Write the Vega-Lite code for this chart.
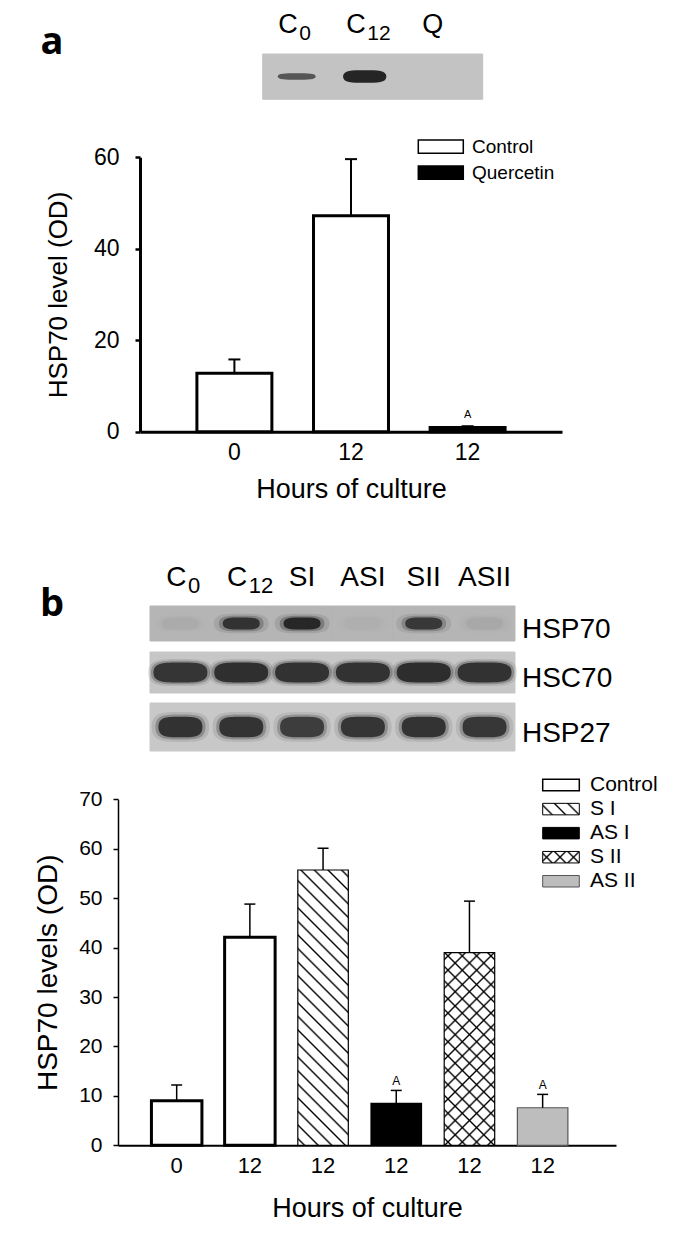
{
  "$schema": "https://vega.github.io/schema/vega-lite/v6.json",
  "width": 700,
  "height": 1236,
  "padding": 0,
  "autosize": {"type": "none"},
  "background": "#ffffff",
  "config": {
    "view": {"stroke": null},
    "font": "Liberation Sans",
    "axis": {"grid": false, "labelColor": "#000", "titleColor": "#000", "domainColor": "#000", "tickColor": "#000", "labelFont": "Liberation Sans", "titleFont": "Liberation Sans", "titleFontWeight": "normal", "labelAngle": 0, "labelOverlap": false, "zindex": 1},
    "text": {"font": "Liberation Sans", "color": "#000"}
  },
  "datasets": {
    "barsA": [
      {"cond": "C0", "group": "Control", "value": 12.8, "upper": 15.8, "sig": ""},
      {"cond": "C12", "group": "Control", "value": 47.2, "upper": 59.6, "sig": ""},
      {"cond": "Q", "group": "Quercetin", "value": 0.9, "upper": 1.2, "sig": "A"}
    ],
    "barsB": [
      {"cond": "C0", "group": "Control", "value": 9.0, "upper": 12.2, "sig": ""},
      {"cond": "C12", "group": "Control", "value": 42.1, "upper": 48.8, "sig": ""},
      {"cond": "SI", "group": "S I", "value": 55.7, "upper": 60.1, "sig": ""},
      {"cond": "ASI", "group": "AS I", "value": 8.5, "upper": 11.1, "sig": "A"},
      {"cond": "SII", "group": "S II", "value": 39.0, "upper": 49.4, "sig": ""},
      {"cond": "ASII", "group": "AS II", "value": 7.6, "upper": 10.3, "sig": "A"}
    ],
    "blotA": [
      {"lane": "C0", "row": "blot", "intensity": 0.65},
      {"lane": "C12", "row": "blot", "intensity": 0.95},
      {"lane": "Q", "row": "blot", "intensity": 0.0}
    ],
    "lanesA": [
      {"lane": "C0", "row": "lab", "main": "C", "sub": "0"},
      {"lane": "C12", "row": "lab", "main": "C", "sub": "12"},
      {"lane": "Q", "row": "lab", "main": "Q", "sub": ""}
    ],
    "blotB": [
      {"protein": "HSP70", "lane": "C0", "intensity": 0.04},
      {"protein": "HSP70", "lane": "C12", "intensity": 0.85},
      {"protein": "HSP70", "lane": "SI", "intensity": 0.95},
      {"protein": "HSP70", "lane": "ASI", "intensity": 0.02},
      {"protein": "HSP70", "lane": "SII", "intensity": 0.8},
      {"protein": "HSP70", "lane": "ASII", "intensity": 0.05},
      {"protein": "HSC70", "lane": "C0", "intensity": 0.85},
      {"protein": "HSC70", "lane": "C12", "intensity": 0.9},
      {"protein": "HSC70", "lane": "SI", "intensity": 0.88},
      {"protein": "HSC70", "lane": "ASI", "intensity": 0.87},
      {"protein": "HSC70", "lane": "SII", "intensity": 0.92},
      {"protein": "HSC70", "lane": "ASII", "intensity": 0.88},
      {"protein": "HSP27", "lane": "C0", "intensity": 0.88},
      {"protein": "HSP27", "lane": "C12", "intensity": 0.86},
      {"protein": "HSP27", "lane": "SI", "intensity": 0.78},
      {"protein": "HSP27", "lane": "ASI", "intensity": 0.85},
      {"protein": "HSP27", "lane": "SII", "intensity": 0.86},
      {"protein": "HSP27", "lane": "ASII", "intensity": 0.83}
    ],
    "lanesB": [
      {"lane": "C0", "row": "lab", "main": "C", "sub": "0"},
      {"lane": "C12", "row": "lab", "main": "C", "sub": "12"},
      {"lane": "SI", "row": "lab", "main": "SI", "sub": ""},
      {"lane": "ASI", "row": "lab", "main": "ASI", "sub": ""},
      {"lane": "SII", "row": "lab", "main": "SII", "sub": ""},
      {"lane": "ASII", "row": "lab", "main": "ASII", "sub": ""}
    ],
    "legendA": [
      {"group": "Control", "box": "box", "txt": "text"},
      {"group": "Quercetin", "box": "box", "txt": "text"}
    ],
    "legendB": [
      {"group": "Control", "box": "box", "txt": "text"},
      {"group": "S I", "box": "box", "txt": "text"},
      {"group": "AS I", "box": "box", "txt": "text"},
      {"group": "S II", "box": "box", "txt": "text"},
      {"group": "AS II", "box": "box", "txt": "text"}
    ]
  },
  "resolve": {
    "scale": {"x": "independent", "y": "independent", "fill": "independent", "opacity": "independent", "size": "independent", "shape": "independent", "color": "independent"},
    "axis": {"x": "independent", "y": "independent"}
  },
  "layer": [
    {
      "data": {"values": [{"tag": "a", "col": "L"}, {"tag": "b", "col": "L"}]},
      "mark": {"type": "text", "font": "Open Sans", "fontWeight": "bold", "fontSize": 38, "align": "center", "baseline": "alphabetic"},
      "encoding": {
        "x": {"field": "col", "type": "nominal", "scale": {"type": "point", "domain": ["L"], "range": [40, 64], "padding": 0.5}, "axis": null},
        "y": {"field": "tag", "type": "nominal", "scale": {"type": "point", "domain": ["a", "b"], "range": [54, 616], "padding": 0}, "axis": null},
        "text": {"field": "tag", "type": "nominal"}
      }
    },
    {
      "data": {"name": "blotA"},
      "mark": {"type": "rect", "fill": "#c3c3c3", "stroke": "#c3c3c3", "strokeWidth": 1},
      "encoding": {
        "x": {"field": "lane", "type": "nominal", "scale": {"type": "band", "domain": ["C0", "C12", "Q"], "range": [262.7, 482.7], "paddingInner": 0, "paddingOuter": 0}, "axis": null},
        "y": {"field": "row", "type": "nominal", "scale": {"type": "band", "domain": ["blot"], "range": [54, 99.3], "paddingInner": 0, "paddingOuter": 0}, "axis": null}
      }
    },
    {
      "encoding": {
        "x": {"field": "lane", "type": "nominal", "scale": {"type": "band", "domain": ["C0", "C12", "Q"], "range": [262.7, 482.7], "paddingInner": 0, "paddingOuter": 0.1176, "align": 0}, "axis": null},
        "y": {"field": "row", "type": "nominal", "scale": {"type": "point", "domain": ["lab", "blot"], "range": [33, 76.5], "padding": 0}, "axis": null}
      },
      "layer": [
        {
          "data": {"name": "blotA"},
          "mark": {"type": "point", "filled": true, "color": "#1c1c1c", "strokeWidth": 0, "fillOpacity": 1},
          "encoding": {
            "shape": {"field": "lane", "type": "nominal", "scale": {"domain": ["C0", "C12", "Q"], "range": ["M-1,0C-1,-0.17,-0.6,-0.17,0,-0.17C0.6,-0.17,1,-0.17,1,0C1,0.17,0.6,0.17,0,0.17C-0.6,0.17,-1,0.17,-1,0Z", "M-1,0C-1,-0.29,-0.6,-0.29,0,-0.29C0.6,-0.29,1,-0.29,1,0C1,0.29,0.6,0.29,0,0.29C-0.6,0.29,-1,0.29,-1,0Z", "M-1,0C-1,-0.17,-0.6,-0.17,0,-0.17C0.6,-0.17,1,-0.17,1,0C1,0.17,0.6,0.17,0,0.17C-0.6,0.17,-1,0.17,-1,0Z"]}, "legend": null},
            "size": {"field": "lane", "type": "ordinal", "scale": {"domain": ["C0", "C12", "Q"], "range": [1444, 2304, 1444]}, "legend": null},
            "opacity": {"field": "intensity", "type": "quantitative", "scale": {"domain": [0, 1], "range": [0, 1]}, "legend": null}
          }
        },
        {
          "data": {"name": "lanesA"},
          "transform": [{"filter": "datum.sub != ''"}],
          "mark": {"type": "text", "fontSize": 27, "align": "right", "baseline": "alphabetic", "dx": 1},
          "encoding": {"text": {"field": "main", "type": "nominal"}}
        },
        {
          "data": {"name": "lanesA"},
          "transform": [{"filter": "datum.sub != ''"}],
          "mark": {"type": "text", "fontSize": 21, "align": "left", "baseline": "alphabetic", "dx": 2.5, "dy": 7},
          "encoding": {"text": {"field": "sub", "type": "nominal"}}
        },
        {
          "data": {"name": "lanesA"},
          "transform": [{"filter": "datum.sub == ''"}],
          "mark": {"type": "text", "fontSize": 27, "align": "center", "baseline": "alphabetic"},
          "encoding": {"text": {"field": "main", "type": "nominal"}}
        }
      ]
    },
    {
      "data": {"name": "barsA"},
      "encoding": {
        "x": {"field": "cond", "type": "nominal", "scale": {"type": "band", "domain": ["C0", "C12", "Q"], "range": [140, 562], "paddingInner": 0.357, "paddingOuter": 0.488, "align": 0.5},
          "axis": {"orient": "bottom", "offset": -804.3, "domainWidth": 3, "ticks": false, "labelFontSize": 23, "labelPadding": 10, "labelExpr": "datum.value == 'C0' ? '0' : '12'", "title": "Hours of culture", "titleFontSize": 27, "titlePadding": 12}},
        "y": {"field": "value", "type": "quantitative", "scale": {"domain": [0, 60], "range": [431.7, 157.3], "nice": false, "zero": true},
          "axis": {"orient": "left", "offset": -140, "values": [0, 20, 40, 60], "tickSize": 5, "tickWidth": 2.5, "domainWidth": 3, "labelFontSize": 23, "labelPadding": 16, "title": "HSP70 level (OD)", "titleFontSize": 26, "titlePadding": 22}}
      },
      "layer": [
        {
          "mark": {"type": "bar", "stroke": "#000", "strokeWidth": 3, "opacity": 1},
          "encoding": {"fill": {"field": "group", "type": "nominal", "scale": {"domain": ["Control", "Quercetin"], "range": ["#ffffff", "#000000"]}, "legend": null}}
        },
        {
          "mark": {"type": "rule", "color": "#000", "strokeWidth": 2},
          "encoding": {"y2": {"field": "upper"}}
        },
        {
          "mark": {"type": "tick", "color": "#000", "thickness": 2, "size": 12, "opacity": 1},
          "encoding": {"y": {"field": "upper", "type": "quantitative", "scale": {"domain": [0, 60], "range": [431.7, 157.3], "nice": false, "zero": true},
            "axis": {"orient": "left", "offset": -140, "values": [0, 20, 40, 60], "tickSize": 5, "tickWidth": 2.5, "domainWidth": 3, "labelFontSize": 23, "labelPadding": 16, "title": "HSP70 level (OD)", "titleFontSize": 26, "titlePadding": 22}}}
        },
        {
          "transform": [{"filter": "datum.sig != ''"}],
          "mark": {"type": "text", "fontSize": 11, "baseline": "alphabetic", "dy": -8},
          "encoding": {
            "y": {"field": "upper", "type": "quantitative", "scale": {"domain": [0, 60], "range": [431.7, 157.3], "nice": false, "zero": true},
              "axis": {"orient": "left", "offset": -140, "values": [0, 20, 40, 60], "tickSize": 5, "tickWidth": 2.5, "domainWidth": 3, "labelFontSize": 23, "labelPadding": 16, "title": "HSP70 level (OD)", "titleFontSize": 26, "titlePadding": 22}},
            "text": {"field": "sig", "type": "nominal"}
          }
        }
      ]
    },
    {
      "data": {"name": "legendA"},
      "encoding": {
        "y": {"field": "group", "type": "nominal", "scale": {"type": "band", "domain": ["Control", "Quercetin"], "range": [140, 179.3], "paddingInner": 0.488, "paddingOuter": 0}, "axis": null}
      },
      "layer": [
        {
          "mark": {"type": "rect", "stroke": "#000", "strokeWidth": 1.5},
          "encoding": {
            "x": {"field": "box", "type": "nominal", "scale": {"type": "band", "domain": ["box", "text"], "range": [418.3, 517], "paddingInner": 0.162, "paddingOuter": 0}, "axis": null},
            "fill": {"field": "group", "type": "nominal", "scale": {"domain": ["Control", "Quercetin"], "range": ["#ffffff", "#000000"]}, "legend": null}
          }
        },
        {
          "mark": {"type": "text", "fontSize": 19, "align": "left", "baseline": "middle"},
          "encoding": {
            "x": {"field": "txt", "type": "nominal", "bandPosition": 0, "scale": {"type": "band", "domain": ["box", "text"], "range": [418.3, 517], "paddingInner": 0.162, "paddingOuter": 0}, "axis": null},
            "text": {"field": "group", "type": "nominal"}
          }
        }
      ]
    },
    {
      "data": {"name": "blotB"},
      "transform": [{"filter": "datum.protein == 'HSP70'"}],
      "encoding": {
        "x": {"field": "lane", "type": "nominal", "scale": {"type": "band", "domain": ["C0", "C12", "SI", "ASI", "SII", "ASII", "lbl"], "range": [150, 575.8], "paddingInner": 0, "paddingOuter": 0}, "axis": null},
        "y": {"field": "protein", "type": "nominal", "scale": {"type": "band", "domain": ["HSP70"], "range": [606, 641], "paddingInner": 0, "paddingOuter": 0}, "axis": null}
      },
      "layer": [
        {"mark": {"type": "rect", "fill": "#b5b5b5", "stroke": "#b5b5b5", "strokeWidth": 1}},
        {
          "mark": {"type": "point", "filled": true, "color": "#1c1c1c", "strokeWidth": 0, "fillOpacity": 0.12, "size": 3000, "shape": "M-1,0C-1,-0.36,-0.6,-0.36,0,-0.36C0.6,-0.36,1,-0.36,1,0C1,0.36,0.6,0.36,0,0.36C-0.6,0.36,-1,0.36,-1,0Z"},
          "encoding": {"opacity": {"field": "intensity", "type": "quantitative", "scale": {"domain": [0, 1], "range": [0, 1]}, "legend": null}}
        },
        {
          "mark": {"type": "point", "filled": true, "color": "#1c1c1c", "strokeWidth": 0, "fillOpacity": 0.3, "size": 2000, "shape": "M-1,0C-1,-0.35,-0.6,-0.35,0,-0.35C0.6,-0.35,1,-0.35,1,0C1,0.35,0.6,0.35,0,0.35C-0.6,0.35,-1,0.35,-1,0Z"},
          "encoding": {"opacity": {"field": "intensity", "type": "quantitative", "scale": {"domain": [0, 1], "range": [0, 1]}, "legend": null}}
        },
        {
          "mark": {"type": "point", "filled": true, "color": "#1c1c1c", "strokeWidth": 0, "fillOpacity": 0.92, "size": 1369, "shape": "M-1,0C-1,-0.33,-0.6,-0.33,0,-0.33C0.6,-0.33,1,-0.33,1,0C1,0.33,0.6,0.33,0,0.33C-0.6,0.33,-1,0.33,-1,0Z"},
          "encoding": {"opacity": {"field": "intensity", "type": "quantitative", "scale": {"domain": [0, 1], "range": [0, 1]}, "legend": null}}
        },
        {
          "data": {"values": [{"lane": "lbl", "protein": "HSP70"}]},
          "mark": {"type": "text", "fontSize": 28, "align": "left", "baseline": "alphabetic", "dx": 7, "dy": 14},
          "encoding": {
            "x": {"field": "lane", "type": "nominal", "bandPosition": 0, "scale": {"type": "band", "domain": ["C0", "C12", "SI", "ASI", "SII", "ASII", "lbl"], "range": [150, 575.8], "paddingInner": 0, "paddingOuter": 0}, "axis": null},
            "text": {"field": "protein", "type": "nominal"}
          }
        }
      ]
    },
    {
      "data": {"name": "blotB"},
      "transform": [{"filter": "datum.protein == 'HSC70'"}],
      "encoding": {
        "x": {"field": "lane", "type": "nominal", "scale": {"type": "band", "domain": ["C0", "C12", "SI", "ASI", "SII", "ASII", "lbl"], "range": [150, 575.8], "paddingInner": 0, "paddingOuter": 0}, "axis": null},
        "y": {"field": "protein", "type": "nominal", "scale": {"type": "band", "domain": ["HSC70"], "range": [652, 693], "paddingInner": 0, "paddingOuter": 0}, "axis": null}
      },
      "layer": [
        {"mark": {"type": "rect", "fill": "#c6c6c6", "stroke": "#c6c6c6", "strokeWidth": 1}},
        {
          "mark": {"type": "point", "filled": true, "color": "#1c1c1c", "strokeWidth": 0, "fillOpacity": 0.12, "size": 4200, "shape": "M-1,0C-1,-0.42,-0.6,-0.42,0,-0.42C0.6,-0.42,1,-0.42,1,0C1,0.42,0.6,0.42,0,0.42C-0.6,0.42,-1,0.42,-1,0Z"},
          "encoding": {"opacity": {"field": "intensity", "type": "quantitative", "scale": {"domain": [0, 1], "range": [0, 1]}, "legend": null}}
        },
        {
          "mark": {"type": "point", "filled": true, "color": "#1c1c1c", "strokeWidth": 0, "fillOpacity": 0.3, "size": 3500, "shape": "M-1,0C-1,-0.4,-0.6,-0.4,0,-0.4C0.6,-0.4,1,-0.4,1,0C1,0.4,0.6,0.4,0,0.4C-0.6,0.4,-1,0.4,-1,0Z"},
          "encoding": {"opacity": {"field": "intensity", "type": "quantitative", "scale": {"domain": [0, 1], "range": [0, 1]}, "legend": null}}
        },
        {
          "mark": {"type": "point", "filled": true, "color": "#1c1c1c", "strokeWidth": 0, "fillOpacity": 0.92, "size": 2916, "shape": "M-1,0C-1,-0.37,-0.6,-0.37,0,-0.37C0.6,-0.37,1,-0.37,1,0C1,0.37,0.6,0.37,0,0.37C-0.6,0.37,-1,0.37,-1,0Z"},
          "encoding": {"opacity": {"field": "intensity", "type": "quantitative", "scale": {"domain": [0, 1], "range": [0, 1]}, "legend": null}}
        },
        {
          "data": {"values": [{"lane": "lbl", "protein": "HSC70"}]},
          "mark": {"type": "text", "fontSize": 28, "align": "left", "baseline": "alphabetic", "dx": 7, "dy": 14},
          "encoding": {
            "x": {"field": "lane", "type": "nominal", "bandPosition": 0, "scale": {"type": "band", "domain": ["C0", "C12", "SI", "ASI", "SII", "ASII", "lbl"], "range": [150, 575.8], "paddingInner": 0, "paddingOuter": 0}, "axis": null},
            "text": {"field": "protein", "type": "nominal"}
          }
        }
      ]
    },
    {
      "data": {"name": "blotB"},
      "transform": [{"filter": "datum.protein == 'HSP27'"}],
      "encoding": {
        "x": {"field": "lane", "type": "nominal", "scale": {"type": "band", "domain": ["C0", "C12", "SI", "ASI", "SII", "ASII", "lbl"], "range": [150, 575.8], "paddingInner": 0, "paddingOuter": 0}, "axis": null},
        "y": {"field": "protein", "type": "nominal", "scale": {"type": "band", "domain": ["HSP27"], "range": [703, 751], "paddingInner": 0, "paddingOuter": 0}, "axis": null}
      },
      "layer": [
        {"mark": {"type": "rect", "fill": "#c8c8c8", "stroke": "#c8c8c8", "strokeWidth": 1}},
        {
          "mark": {"type": "point", "filled": true, "color": "#1c1c1c", "strokeWidth": 0, "fillOpacity": 0.12, "size": 3300, "shape": "M-1,0C-1,-0.52,-0.6,-0.52,0,-0.52C0.6,-0.52,1,-0.52,1,0C1,0.52,0.6,0.52,0,0.52C-0.6,0.52,-1,0.52,-1,0Z"},
          "encoding": {"opacity": {"field": "intensity", "type": "quantitative", "scale": {"domain": [0, 1], "range": [0, 1]}, "legend": null}}
        },
        {
          "mark": {"type": "point", "filled": true, "color": "#1c1c1c", "strokeWidth": 0, "fillOpacity": 0.3, "size": 2500, "shape": "M-1,0C-1,-0.5,-0.6,-0.5,0,-0.5C0.6,-0.5,1,-0.5,1,0C1,0.5,0.6,0.5,0,0.5C-0.6,0.5,-1,0.5,-1,0Z"},
          "encoding": {"opacity": {"field": "intensity", "type": "quantitative", "scale": {"domain": [0, 1], "range": [0, 1]}, "legend": null}}
        },
        {
          "mark": {"type": "point", "filled": true, "color": "#1c1c1c", "strokeWidth": 0, "fillOpacity": 0.92, "size": 1936, "shape": "M-1,0C-1,-0.47,-0.6,-0.47,0,-0.47C0.6,-0.47,1,-0.47,1,0C1,0.47,0.6,0.47,0,0.47C-0.6,0.47,-1,0.47,-1,0Z"},
          "encoding": {"opacity": {"field": "intensity", "type": "quantitative", "scale": {"domain": [0, 1], "range": [0, 1]}, "legend": null}}
        },
        {
          "data": {"values": [{"lane": "lbl", "protein": "HSP27"}]},
          "mark": {"type": "text", "fontSize": 28, "align": "left", "baseline": "alphabetic", "dx": 7, "dy": 15},
          "encoding": {
            "x": {"field": "lane", "type": "nominal", "bandPosition": 0, "scale": {"type": "band", "domain": ["C0", "C12", "SI", "ASI", "SII", "ASII", "lbl"], "range": [150, 575.8], "paddingInner": 0, "paddingOuter": 0}, "axis": null},
            "text": {"field": "protein", "type": "nominal"}
          }
        }
      ]
    },
    {
      "data": {"name": "lanesB"},
      "encoding": {
        "x": {"field": "lane", "type": "nominal", "scale": {"type": "band", "domain": ["C0", "C12", "SI", "ASI", "SII", "ASII", "lbl"], "range": [150, 575.8], "paddingInner": 0, "paddingOuter": 0}, "axis": null},
        "y": {"field": "row", "type": "nominal", "scale": {"type": "point", "domain": ["lab"], "range": [585.7, 585.7], "padding": 0}, "axis": null}
      },
      "layer": [
        {
          "transform": [{"filter": "datum.sub != ''"}],
          "mark": {"type": "text", "fontSize": 28, "align": "right", "baseline": "alphabetic", "dx": 6},
          "encoding": {"text": {"field": "main", "type": "nominal"}}
        },
        {
          "transform": [{"filter": "datum.sub != ''"}],
          "mark": {"type": "text", "fontSize": 22, "align": "left", "baseline": "alphabetic", "dx": 7.5, "dy": 7},
          "encoding": {"text": {"field": "sub", "type": "nominal"}}
        },
        {
          "transform": [{"filter": "datum.sub == ''"}],
          "mark": {"type": "text", "fontSize": 28, "align": "center", "baseline": "alphabetic"},
          "encoding": {"text": {"field": "main", "type": "nominal"}}
        }
      ]
    },
    {
      "data": {"name": "barsB"},
      "encoding": {
        "x": {"field": "cond", "type": "nominal", "scale": {"type": "band", "domain": ["C0", "C12", "SI", "ASI", "SII", "ASII"], "range": [118, 616], "paddingInner": 0.31, "paddingOuter": 0.557, "align": 0.41},
          "axis": {"orient": "bottom", "offset": -90.7, "domainWidth": 2, "ticks": false, "labelFontSize": 22, "labelPadding": 10, "labelExpr": "datum.value == 'C0' ? '0' : '12'", "title": "Hours of culture", "titleFontSize": 27, "titlePadding": 19}},
        "y": {"field": "value", "type": "quantitative", "scale": {"domain": [0, 70], "range": [1145.3, 799.3], "nice": false, "zero": true},
          "axis": {"orient": "left", "offset": -118, "values": [0, 10, 20, 30, 40, 50, 60, 70], "tickSize": 5, "tickWidth": 1.5, "domainWidth": 1.5, "labelFontSize": 21, "labelPadding": 11, "title": "HSP70 levels (OD)", "titleFontSize": 28, "titlePadding": 16}}
      },
      "layer": [
        {
          "transform": [{"filter": "datum.group == 'Control'"}],
          "mark": {"type": "bar", "fill": "#ffffff", "stroke": "#000", "strokeWidth": 3, "opacity": 1}
        },
        {
          "transform": [{"filter": "datum.group == 'S I'"}],
          "mark": {"type": "bar", "stroke": "#000", "strokeWidth": 1.2, "opacity": 1,
            "fill": {"gradient": "linear", "x1": 0, "y1": 1, "x2": 0.21002, "y2": -0.14492, "stops": [
              {"offset": 0.01483, "color": "#fff"}, {"offset": 0.02083, "color": "#000"}, {"offset": 0.02683, "color": "#fff"},
              {"offset": 0.0565, "color": "#fff"}, {"offset": 0.0625, "color": "#000"}, {"offset": 0.0685, "color": "#fff"},
              {"offset": 0.09817, "color": "#fff"}, {"offset": 0.10417, "color": "#000"}, {"offset": 0.11017, "color": "#fff"},
              {"offset": 0.13983, "color": "#fff"}, {"offset": 0.14583, "color": "#000"}, {"offset": 0.15183, "color": "#fff"},
              {"offset": 0.1815, "color": "#fff"}, {"offset": 0.1875, "color": "#000"}, {"offset": 0.1935, "color": "#fff"},
              {"offset": 0.22317, "color": "#fff"}, {"offset": 0.22917, "color": "#000"}, {"offset": 0.23517, "color": "#fff"},
              {"offset": 0.26483, "color": "#fff"}, {"offset": 0.27083, "color": "#000"}, {"offset": 0.27683, "color": "#fff"},
              {"offset": 0.3065, "color": "#fff"}, {"offset": 0.3125, "color": "#000"}, {"offset": 0.3185, "color": "#fff"},
              {"offset": 0.34817, "color": "#fff"}, {"offset": 0.35417, "color": "#000"}, {"offset": 0.36017, "color": "#fff"},
              {"offset": 0.38983, "color": "#fff"}, {"offset": 0.39583, "color": "#000"}, {"offset": 0.40183, "color": "#fff"},
              {"offset": 0.4315, "color": "#fff"}, {"offset": 0.4375, "color": "#000"}, {"offset": 0.4435, "color": "#fff"},
              {"offset": 0.47317, "color": "#fff"}, {"offset": 0.47917, "color": "#000"}, {"offset": 0.48517, "color": "#fff"},
              {"offset": 0.51483, "color": "#fff"}, {"offset": 0.52083, "color": "#000"}, {"offset": 0.52683, "color": "#fff"},
              {"offset": 0.5565, "color": "#fff"}, {"offset": 0.5625, "color": "#000"}, {"offset": 0.5685, "color": "#fff"},
              {"offset": 0.59817, "color": "#fff"}, {"offset": 0.60417, "color": "#000"}, {"offset": 0.61017, "color": "#fff"},
              {"offset": 0.63983, "color": "#fff"}, {"offset": 0.64583, "color": "#000"}, {"offset": 0.65183, "color": "#fff"},
              {"offset": 0.6815, "color": "#fff"}, {"offset": 0.6875, "color": "#000"}, {"offset": 0.6935, "color": "#fff"},
              {"offset": 0.72317, "color": "#fff"}, {"offset": 0.72917, "color": "#000"}, {"offset": 0.73517, "color": "#fff"},
              {"offset": 0.76483, "color": "#fff"}, {"offset": 0.77083, "color": "#000"}, {"offset": 0.77683, "color": "#fff"},
              {"offset": 0.8065, "color": "#fff"}, {"offset": 0.8125, "color": "#000"}, {"offset": 0.8185, "color": "#fff"},
              {"offset": 0.84817, "color": "#fff"}, {"offset": 0.85417, "color": "#000"}, {"offset": 0.86017, "color": "#fff"},
              {"offset": 0.88983, "color": "#fff"}, {"offset": 0.89583, "color": "#000"}, {"offset": 0.90183, "color": "#fff"},
              {"offset": 0.9315, "color": "#fff"}, {"offset": 0.9375, "color": "#000"}, {"offset": 0.9435, "color": "#fff"},
              {"offset": 0.97317, "color": "#fff"}, {"offset": 0.97917, "color": "#000"}, {"offset": 0.98517, "color": "#fff"}
            ]}}
        },
        {
          "transform": [{"filter": "datum.group == 'AS I'"}],
          "mark": {"type": "bar", "fill": "#000", "stroke": "#000", "strokeWidth": 1.2, "opacity": 1}
        },
        {
          "transform": [{"filter": "datum.group == 'S II'"}],
          "mark": {"type": "bar", "strokeWidth": 0, "opacity": 1,
            "fill": {"gradient": "linear", "x1": 0, "y1": 1, "x2": 0.30937, "y2": -0.18093, "stops": [
              {"offset": 0.02141, "color": "#fff"}, {"offset": 0.02941, "color": "#000"}, {"offset": 0.03741, "color": "#fff"},
              {"offset": 0.08024, "color": "#fff"}, {"offset": 0.08824, "color": "#000"}, {"offset": 0.09624, "color": "#fff"},
              {"offset": 0.13906, "color": "#fff"}, {"offset": 0.14706, "color": "#000"}, {"offset": 0.15506, "color": "#fff"},
              {"offset": 0.19788, "color": "#fff"}, {"offset": 0.20588, "color": "#000"}, {"offset": 0.21388, "color": "#fff"},
              {"offset": 0.25671, "color": "#fff"}, {"offset": 0.26471, "color": "#000"}, {"offset": 0.27271, "color": "#fff"},
              {"offset": 0.31553, "color": "#fff"}, {"offset": 0.32353, "color": "#000"}, {"offset": 0.33153, "color": "#fff"},
              {"offset": 0.37435, "color": "#fff"}, {"offset": 0.38235, "color": "#000"}, {"offset": 0.39035, "color": "#fff"},
              {"offset": 0.43318, "color": "#fff"}, {"offset": 0.44118, "color": "#000"}, {"offset": 0.44918, "color": "#fff"},
              {"offset": 0.492, "color": "#fff"}, {"offset": 0.5, "color": "#000"}, {"offset": 0.508, "color": "#fff"},
              {"offset": 0.55082, "color": "#fff"}, {"offset": 0.55882, "color": "#000"}, {"offset": 0.56682, "color": "#fff"},
              {"offset": 0.60965, "color": "#fff"}, {"offset": 0.61765, "color": "#000"}, {"offset": 0.62565, "color": "#fff"},
              {"offset": 0.66847, "color": "#fff"}, {"offset": 0.67647, "color": "#000"}, {"offset": 0.68447, "color": "#fff"},
              {"offset": 0.72729, "color": "#fff"}, {"offset": 0.73529, "color": "#000"}, {"offset": 0.74329, "color": "#fff"},
              {"offset": 0.78612, "color": "#fff"}, {"offset": 0.79412, "color": "#000"}, {"offset": 0.80212, "color": "#fff"},
              {"offset": 0.84494, "color": "#fff"}, {"offset": 0.85294, "color": "#000"}, {"offset": 0.86094, "color": "#fff"},
              {"offset": 0.90376, "color": "#fff"}, {"offset": 0.91176, "color": "#000"}, {"offset": 0.91976, "color": "#fff"},
              {"offset": 0.96259, "color": "#fff"}, {"offset": 0.97059, "color": "#000"}, {"offset": 0.97859, "color": "#fff"}
            ]}}
        },
        {
          "transform": [{"filter": "datum.group == 'S II'"}],
          "mark": {"type": "bar", "stroke": "#000", "strokeWidth": 1.2, "opacity": 1,
            "fill": {"gradient": "linear", "x1": 0, "y1": 0, "x2": 0.30937, "y2": 1.18093, "stops": [
              {"offset": 0.02141, "color": "rgba(0,0,0,0)"}, {"offset": 0.02941, "color": "#000"}, {"offset": 0.03741, "color": "rgba(0,0,0,0)"},
              {"offset": 0.08024, "color": "rgba(0,0,0,0)"}, {"offset": 0.08824, "color": "#000"}, {"offset": 0.09624, "color": "rgba(0,0,0,0)"},
              {"offset": 0.13906, "color": "rgba(0,0,0,0)"}, {"offset": 0.14706, "color": "#000"}, {"offset": 0.15506, "color": "rgba(0,0,0,0)"},
              {"offset": 0.19788, "color": "rgba(0,0,0,0)"}, {"offset": 0.20588, "color": "#000"}, {"offset": 0.21388, "color": "rgba(0,0,0,0)"},
              {"offset": 0.25671, "color": "rgba(0,0,0,0)"}, {"offset": 0.26471, "color": "#000"}, {"offset": 0.27271, "color": "rgba(0,0,0,0)"},
              {"offset": 0.31553, "color": "rgba(0,0,0,0)"}, {"offset": 0.32353, "color": "#000"}, {"offset": 0.33153, "color": "rgba(0,0,0,0)"},
              {"offset": 0.37435, "color": "rgba(0,0,0,0)"}, {"offset": 0.38235, "color": "#000"}, {"offset": 0.39035, "color": "rgba(0,0,0,0)"},
              {"offset": 0.43318, "color": "rgba(0,0,0,0)"}, {"offset": 0.44118, "color": "#000"}, {"offset": 0.44918, "color": "rgba(0,0,0,0)"},
              {"offset": 0.492, "color": "rgba(0,0,0,0)"}, {"offset": 0.5, "color": "#000"}, {"offset": 0.508, "color": "rgba(0,0,0,0)"},
              {"offset": 0.55082, "color": "rgba(0,0,0,0)"}, {"offset": 0.55882, "color": "#000"}, {"offset": 0.56682, "color": "rgba(0,0,0,0)"},
              {"offset": 0.60965, "color": "rgba(0,0,0,0)"}, {"offset": 0.61765, "color": "#000"}, {"offset": 0.62565, "color": "rgba(0,0,0,0)"},
              {"offset": 0.66847, "color": "rgba(0,0,0,0)"}, {"offset": 0.67647, "color": "#000"}, {"offset": 0.68447, "color": "rgba(0,0,0,0)"},
              {"offset": 0.72729, "color": "rgba(0,0,0,0)"}, {"offset": 0.73529, "color": "#000"}, {"offset": 0.74329, "color": "rgba(0,0,0,0)"},
              {"offset": 0.78612, "color": "rgba(0,0,0,0)"}, {"offset": 0.79412, "color": "#000"}, {"offset": 0.80212, "color": "rgba(0,0,0,0)"},
              {"offset": 0.84494, "color": "rgba(0,0,0,0)"}, {"offset": 0.85294, "color": "#000"}, {"offset": 0.86094, "color": "rgba(0,0,0,0)"},
              {"offset": 0.90376, "color": "rgba(0,0,0,0)"}, {"offset": 0.91176, "color": "#000"}, {"offset": 0.91976, "color": "rgba(0,0,0,0)"},
              {"offset": 0.96259, "color": "rgba(0,0,0,0)"}, {"offset": 0.97059, "color": "#000"}, {"offset": 0.97859, "color": "rgba(0,0,0,0)"}
            ]}}
        },
        {
          "transform": [{"filter": "datum.group == 'AS II'"}],
          "mark": {"type": "bar", "fill": "#bdbdbd", "stroke": "#555", "strokeWidth": 1.2, "opacity": 1}
        },
        {
          "mark": {"type": "rule", "color": "#000", "strokeWidth": 1.5},
          "encoding": {"y2": {"field": "upper"}}
        },
        {
          "mark": {"type": "tick", "color": "#000", "thickness": 1.5, "size": 11, "opacity": 1},
          "encoding": {"y": {"field": "upper", "type": "quantitative", "scale": {"domain": [0, 70], "range": [1145.3, 799.3], "nice": false, "zero": true},
            "axis": {"orient": "left", "offset": -118, "values": [0, 10, 20, 30, 40, 50, 60, 70], "tickSize": 5, "tickWidth": 1.5, "domainWidth": 1.5, "labelFontSize": 21, "labelPadding": 11, "title": "HSP70 levels (OD)", "titleFontSize": 28, "titlePadding": 16}}}
        },
        {
          "transform": [{"filter": "datum.sig != ''"}],
          "mark": {"type": "text", "fontSize": 12, "baseline": "alphabetic", "dy": -5},
          "encoding": {
            "y": {"field": "upper", "type": "quantitative", "scale": {"domain": [0, 70], "range": [1145.3, 799.3], "nice": false, "zero": true},
              "axis": {"orient": "left", "offset": -118, "values": [0, 10, 20, 30, 40, 50, 60, 70], "tickSize": 5, "tickWidth": 1.5, "domainWidth": 1.5, "labelFontSize": 21, "labelPadding": 11, "title": "HSP70 levels (OD)", "titleFontSize": 28, "titlePadding": 16}},
            "text": {"field": "sig", "type": "nominal"}
          }
        }
      ]
    },
    {
      "data": {"name": "legendB"},
      "encoding": {
        "y": {"field": "group", "type": "nominal", "scale": {"type": "band", "domain": ["Control", "S I", "AS I", "S II", "AS II"], "range": [779.3, 887], "paddingInner": 0.522, "paddingOuter": 0}, "axis": null},
        "x": {"field": "box", "type": "nominal", "scale": {"type": "band", "domain": ["box", "text"], "range": [542.7, 626.6], "paddingInner": 0.226, "paddingOuter": 0}, "axis": null}
      },
      "layer": [
        {"transform": [{"filter": "datum.group == 'Control'"}], "mark": {"type": "rect", "fill": "#fff", "stroke": "#000", "strokeWidth": 1.5}},
        {"transform": [{"filter": "datum.group == 'S I'"}], "mark": {"type": "rect", "stroke": "#000", "strokeWidth": 1,
          "fill": {"gradient": "linear", "x1": 0, "y1": 1, "x2": 1.1961, "y2": 0.6242, "stops": [
            {"offset": 0.16, "color": "#fff"}, {"offset": 0.2, "color": "#000"}, {"offset": 0.24, "color": "#fff"},
            {"offset": 0.44, "color": "#fff"}, {"offset": 0.48, "color": "#000"}, {"offset": 0.52, "color": "#fff"},
            {"offset": 0.72, "color": "#fff"}, {"offset": 0.76, "color": "#000"}, {"offset": 0.8, "color": "#fff"}
          ]}}},
        {"transform": [{"filter": "datum.group == 'AS I'"}], "mark": {"type": "rect", "fill": "#000", "stroke": "#000", "strokeWidth": 1}},
        {"transform": [{"filter": "datum.group == 'S II'"}], "mark": {"type": "rect", "strokeWidth": 0,
          "fill": {"gradient": "linear", "x1": 0, "y1": 1, "x2": 1.1961, "y2": 0.6242, "stops": [
            {"offset": 0.16, "color": "#fff"}, {"offset": 0.2, "color": "#000"}, {"offset": 0.24, "color": "#fff"},
            {"offset": 0.44, "color": "#fff"}, {"offset": 0.48, "color": "#000"}, {"offset": 0.52, "color": "#fff"},
            {"offset": 0.72, "color": "#fff"}, {"offset": 0.76, "color": "#000"}, {"offset": 0.8, "color": "#fff"}
          ]}}},
        {"transform": [{"filter": "datum.group == 'S II'"}], "mark": {"type": "rect", "stroke": "#000", "strokeWidth": 1,
          "fill": {"gradient": "linear", "x1": 0, "y1": 0, "x2": 1.1961, "y2": 0.3758, "stops": [
            {"offset": 0.16, "color": "rgba(0,0,0,0)"}, {"offset": 0.2, "color": "#000"}, {"offset": 0.24, "color": "rgba(0,0,0,0)"},
            {"offset": 0.44, "color": "rgba(0,0,0,0)"}, {"offset": 0.48, "color": "#000"}, {"offset": 0.52, "color": "rgba(0,0,0,0)"},
            {"offset": 0.72, "color": "rgba(0,0,0,0)"}, {"offset": 0.76, "color": "#000"}, {"offset": 0.8, "color": "rgba(0,0,0,0)"}
          ]}}},
        {"transform": [{"filter": "datum.group == 'AS II'"}], "mark": {"type": "rect", "fill": "#bdbdbd", "stroke": "#555", "strokeWidth": 1}},
        {
          "mark": {"type": "text", "fontSize": 21, "align": "left", "baseline": "middle"},
          "encoding": {
            "x": {"field": "txt", "type": "nominal", "bandPosition": 0, "scale": {"type": "band", "domain": ["box", "text"], "range": [542.7, 626.6], "paddingInner": 0.226, "paddingOuter": 0}, "axis": null},
            "text": {"field": "group", "type": "nominal"}
          }
        }
      ]
    }
  ]
}
